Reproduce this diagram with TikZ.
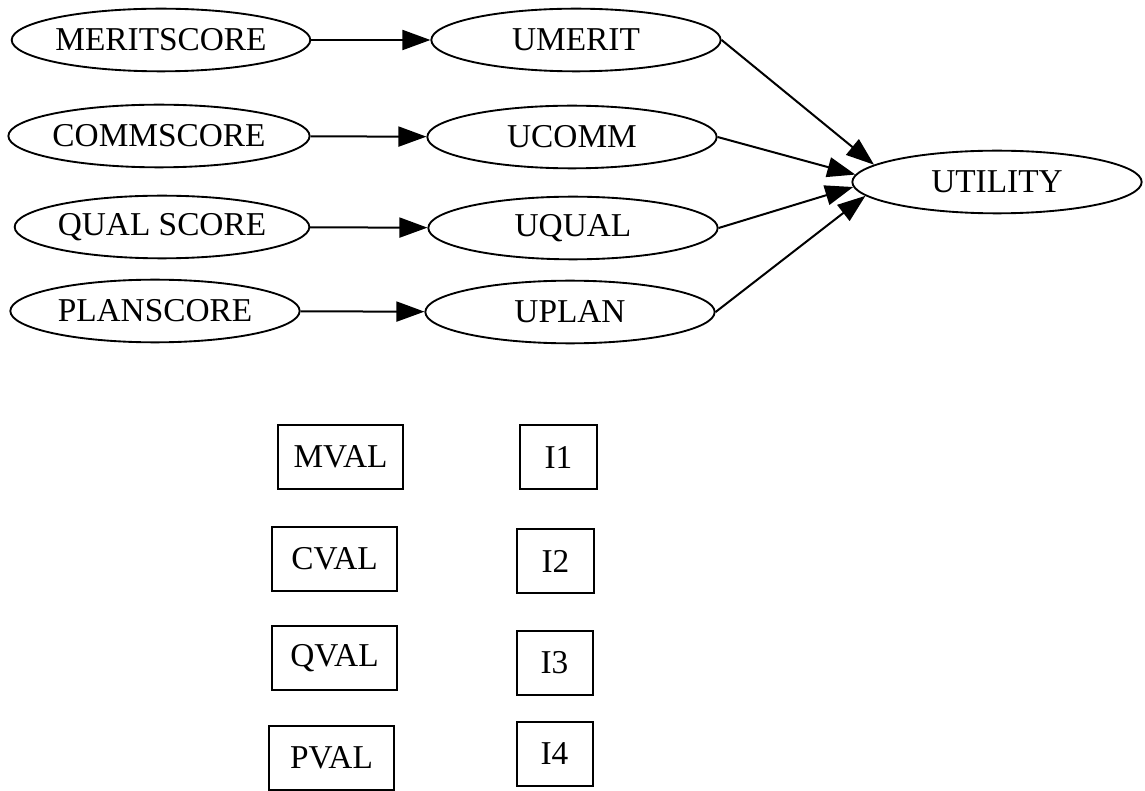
\documentclass[tikz,border=0pt]{standalone}
\usepackage{fontspec}
\setmainfont{Liberation Serif}
\usetikzlibrary{arrows.meta,shapes.geometric}
\tikzset{
  every picture/.append style={font=\fontsize{25}{29}\selectfont},
  ell/.style={ellipse, draw, line width=1.4pt, inner sep=0pt,
              minimum width=217pt, minimum height=47pt},
  val/.style={rectangle, draw, line width=1.5pt, inner sep=0pt,
              minimum width=#1, minimum height=48pt},
  flow/.style={-{Triangle[length=21pt,width=15pt]}, line width=1.5pt},
}

\begin{document}
\begin{tikzpicture}[x=0.75pt,y=-0.75pt]
\useasboundingbox (0,0) rectangle (1145,791);

% ---------------- score nodes ----------------------------------------------
\node[ell] (ms) at (161,40)  {MERITSCORE};
\node[ell] (cs) at (159,136) {COMMSCORE};
\node[ell] (qs) at (162,227) {QUAL SCORE};
\node[ell] (ps) at (155,311) {PLANSCORE};

% ---------------- partial utilities ----------------------------------------
\node[ell] (um) at (576,40)  {UMERIT};
\node[ell] (uc) at (572,137) {UCOMM};
\node[ell] (uq) at (573,228) {UQUAL};
\node[ell] (up) at (570,312) {UPLAN};

\node[ell] (ut) at (997,182) {UTILITY};

\draw[flow] (ms) -- (um);
\draw[flow] (cs) -- (uc);
\draw[flow] (qs) -- (uq);
\draw[flow] (ps) -- (up);

\draw[flow] (um.east) -- (ut.172);
\draw[flow] (uc.east) -- (ut.177);
\draw[flow] (uq.east) -- (ut.182);
\draw[flow] (up.east) -- (ut.186);

% ---------------- value boxes ----------------------------------------------
\node[val=94pt] (mv) at (340.5,457)   {MVAL};
\node[val=94pt] (cv) at (334.5,558.5) {CVAL};
\node[val=94pt] (qv) at (334.5,658)   {QVAL};
\node[val=94pt] (pv) at (331.5,758)   {PVAL};

\node[val=58pt] (i1) at (558.5,457)   {I1};
\node[val=58pt] (i2) at (555.5,561)   {I2};
\node[val=57pt] (i3) at (554.5,662.5) {I3};
\node[val=57pt] (i4) at (554.5,753.5) {I4};

\end{tikzpicture}
\end{document}
